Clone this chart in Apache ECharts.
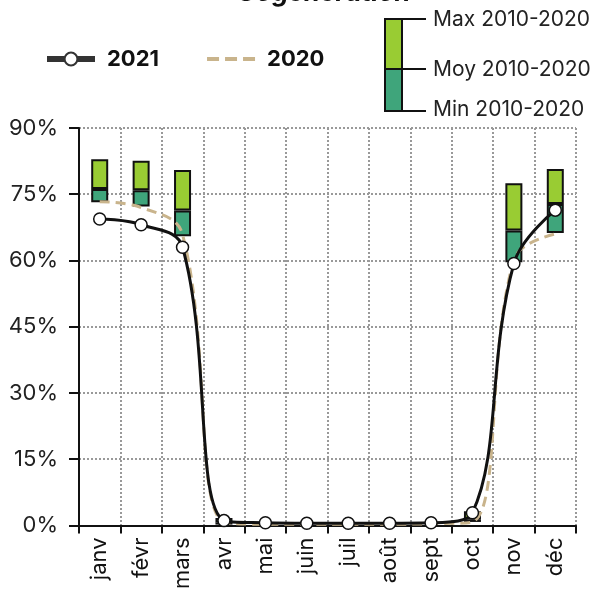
<!DOCTYPE html>
<html>
<head>
<meta charset="utf-8">
<script src="https://cdn.jsdelivr.net/npm/echarts@6/dist/echarts.min.js"></script>
<style>html,body{margin:0;padding:0;background:#fff;}#c{width:599px;height:592px;}</style>
</head>
<body>
<div id="c"></div>
<script>
var months = ['janv','févr','mars','avr','mai','juin','juil','août','sept','oct','nov','déc'];
var minVals = [73.2, 72.2, 65.5, 0.2, null, null, null, null, null, 0.8, 59.6, 66.2];
var moyVals = [76.2, 75.9, 71.3, 0.7, null, null, null, null, null, 1.3, 66.8, 72.8];
var maxVals = [82.9, 82.6, 80.5, 1.7, null, null, null, null, null, 3.2, 77.5, 80.7];
var y2021 = [69.4, 68.1, 63.0, 1.1, 0.6, 0.5, 0.5, 0.5, 0.6, 2.9, 59.3, 71.4];
var y2020 = [73.3, 72.0, 65.9, 0.7, 0.3, 0.3, 0.3, 0.3, 0.4, 0.8, 60.2, 66.0];
var yTicks = [0, 15, 30, 45, 60, 75, 90];

var FONT = 'Inter';
var lowSeg = moyVals.map(function(v,i){ return v == null ? null : +(v - minVals[i]).toFixed(2); });
var highSeg = maxVals.map(function(v,i){ return v == null ? null : +(v - moyVals[i]).toFixed(2); });

var chart = echarts.init(document.getElementById('c'));
chart.setOption({
  backgroundColor: '#fff',
  animation: false,
  textStyle: { fontFamily: FONT },
  grid: { left: 79, top: 128, right: 23, bottom: 65, containLabel: false },
  legend: {
    left: 44, top: 48, padding: 0,
    itemWidth: 48, itemHeight: 16, itemGap: 48,
    data: [
      { name: '2021', lineStyle: { width: 6, color: '#333' }, itemStyle: { color: '#fff', borderColor: '#333', borderWidth: 2 } },
      { name: '2020', icon: 'path://M0,0h12v4h-12zM18,0h12v4h-12zM36,0h12v4h-12z', itemStyle: { color: '#c9b48c' } }
    ],
    textStyle: { fontFamily: FONT, fontSize: 22, fontWeight: 'bold', color: '#111', padding: [0,0,0,7] }
  },
  graphic: [
    { type: 'text', left: 237, top: -20, style: { text: 'Cogénération', font: 'italic bold 26px ' + FONT, fill: '#111' }, z: 10 },
    { type: 'rect', shape: { x: 385, y: 19, width: 17, height: 50 }, style: { fill: '#99cc33', stroke: '#111', lineWidth: 2 } },
    { type: 'rect', shape: { x: 385, y: 69, width: 17, height: 42 }, style: { fill: '#3fa57b', stroke: '#111', lineWidth: 2 } },
    { type: 'line', shape: { x1: 402, y1: 19, x2: 426, y2: 19 }, style: { stroke: '#111', lineWidth: 2 } },
    { type: 'line', shape: { x1: 402, y1: 69, x2: 426, y2: 69 }, style: { stroke: '#111', lineWidth: 2 } },
    { type: 'line', shape: { x1: 402, y1: 111, x2: 426, y2: 111 }, style: { stroke: '#111', lineWidth: 2 } },
    { type: 'text', style: { text: 'Max 2010-2020', x: 433, y: 20, verticalAlign: 'middle', font: '21px ' + FONT, fill: '#222' } },
    { type: 'text', style: { text: 'Moy 2010-2020', x: 433, y: 70, verticalAlign: 'middle', font: '21px ' + FONT, fill: '#222' } },
    { type: 'text', style: { text: 'Min 2010-2020', x: 433, y: 110, verticalAlign: 'middle', font: '21px ' + FONT, fill: '#222' } }
  ],
  xAxis: {
    type: 'category',
    data: months,
    boundaryGap: true,
    axisLine: { lineStyle: { color: '#111', width: 2 } },
    axisTick: { show: true, interval: 0, length: 8, lineStyle: { color: '#111', width: 2 } },
    axisLabel: { rotate: 90, interval: 0, fontSize: 22, color: '#111', margin: 12, fontFamily: FONT },
    splitLine: { show: true, interval: 0, lineStyle: { color: '#999', type: 'dotted', width: 2 } }
  },
  yAxis: {
    type: 'value',
    min: yTicks[0], max: yTicks[yTicks.length-1], interval: 15,
    axisLine: { show: true, lineStyle: { color: '#111', width: 2 } },
    axisTick: { show: true, length: 10, inside: false, lineStyle: { color: '#111', width: 2 } },
    axisLabel: { formatter: '{value}%', fontSize: 22, color: '#222', margin: 21, fontFamily: FONT },
    splitLine: { show: true, lineStyle: { color: '#999', type: 'dotted', width: 2 } }
  },
  series: [
    { name: 'base', type: 'bar', stack: 'box', data: minVals, barWidth: 17, itemStyle: { color: 'transparent', borderWidth: 0 }, silent: true, z: 2 },
    { name: 'Moy', type: 'bar', stack: 'box', data: lowSeg, barWidth: 17, itemStyle: { color: '#3fa57b', borderColor: '#111', borderWidth: 2 }, z: 2 },
    { name: 'Max', type: 'bar', stack: 'box', data: highSeg, barWidth: 17, itemStyle: { color: '#99cc33', borderColor: '#111', borderWidth: 2 }, z: 2 },
    { name: '2020', type: 'line', data: y2020, smooth: 0.4, showSymbol: false, symbol: 'none',
      lineStyle: { color: '#c9b48c', width: 3, type: [10, 6] }, itemStyle: { color: '#c9b48c' }, z: 3 },
    { name: '2021', type: 'line', data: y2021, smooth: 0.4, symbol: 'circle', symbolSize: 12,
      lineStyle: { color: '#111', width: 3 }, itemStyle: { color: '#fff', borderColor: '#111', borderWidth: 1.5 }, z: 4 }
  ]
});
</script>
</body>
</html>
